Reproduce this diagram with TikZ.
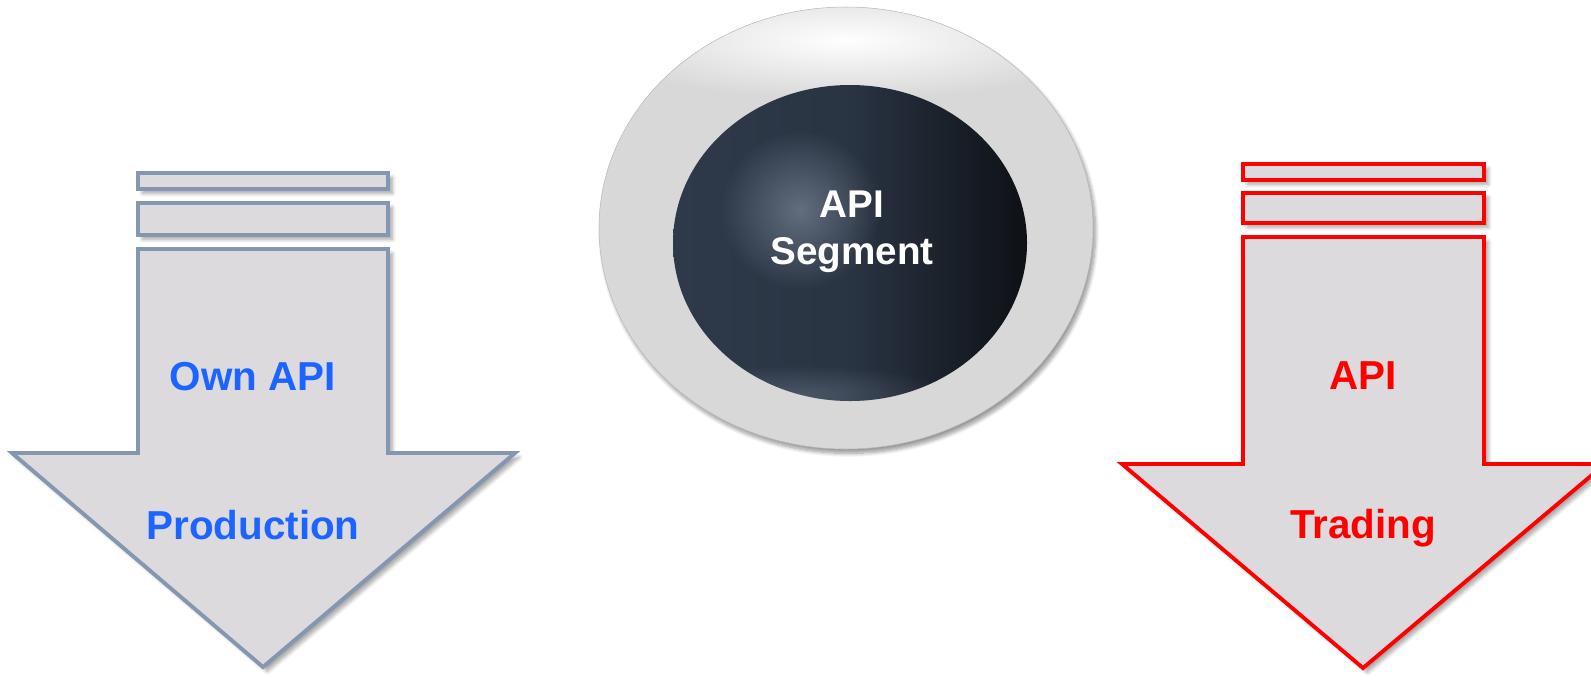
\documentclass[tikz,border=0pt]{standalone}
\usepackage{fontspec}
\setmainfont{Liberation Sans}
\usepackage{xcolor}
\usetikzlibrary{shadows.blur,fadings}

\definecolor{arrowgray}{RGB}{220,218,220}
\definecolor{slateedge}{RGB}{132,151,176}
\definecolor{ownblue}{RGB}{28,100,255}
\definecolor{tradered}{RGB}{255,0,0}
\definecolor{ringgray}{RGB}{216,216,216}
\definecolor{balldark}{RGB}{46,58,74}
\definecolor{ballblack}{RGB}{14,17,22}
\definecolor{ballhl}{RGB}{135,148,166}

\tikzfading[name=glow, inner color=transparent!0, outer color=transparent!100]

\tikzset{
  bar/.style={fill=arrowgray, line width=2.2pt,
    blur shadow={shadow xshift=2.5pt, shadow yshift=-2.5pt, shadow blur steps=6, shadow opacity=35}},
  lbl/.style={font=\bfseries\fontsize{23}{28}\selectfont, anchor=base}
}

\begin{document}
\begin{tikzpicture}[x=0.02cm, y=-0.02cm]

\useasboundingbox (0,0) rectangle (1591,684);
\clip (0,0) rectangle (1591,684);

% Left arrow (own production)
\path[bar, draw=slateedge] (138,173) rectangle (388,189);
\path[bar, draw=slateedge] (138,203) rectangle (388,235);
\path[bar, draw=slateedge, line join=miter]
  (138,249) -- (388,249) -- (388,453) -- (515,453) -- (263,667)
  -- (12,453) -- (138,453) -- cycle;

% Right arrow (trading)
\path[bar, draw=tradered] (1243,164) rectangle (1484,180);
\path[bar, draw=tradered] (1243,193) rectangle (1484,223);
\path[bar, draw=tradered, line join=miter]
  (1243,237) -- (1484,237) -- (1484,464) -- (1605,464) -- (1363,668)
  -- (1122,464) -- (1243,464) -- cycle;

% Outer ring
\fill[ringgray, blur shadow={shadow xshift=1.5pt, shadow yshift=-2.5pt, shadow blur steps=8, shadow opacity=40}]
  (846,228) ellipse (247 and 221);
\begin{scope}
  \clip (846,228) ellipse (247 and 221);
  \fill[white, path fading=glow] (846,40) ellipse (260 and 60);
\end{scope}
\draw[gray!55, line width=0.3pt] (846,228) ellipse (247 and 221);

% Inner ball
\begin{scope}
  \clip (850,243) ellipse (177 and 158);
  \shade[left color=balldark, right color=ballblack, middle color=balldark!90!black]
    (673,85) rectangle (1027,402);
  \fill[ballhl, path fading=glow, opacity=0.6] (800,210) circle (80);
  \fill[ballhl, path fading=glow, opacity=0.35] (800,395) ellipse (150 and 30);
\end{scope}

% Labels
\node[lbl, text=ownblue] (ownapi) at (253,390) {Own API};
\node[lbl, text=ownblue] (prod) at (253,539) {Production};
\node[lbl, text=tradered] (api) at (1363,389) {API};
\node[lbl, text=tradered] (trade) at (1363,538) {Trading};
\node[font=\bfseries\fontsize{22}{27}\selectfont, text=white, align=center]
  (segment) at (852,232) {API\\Segment};

\end{tikzpicture}
\end{document}
